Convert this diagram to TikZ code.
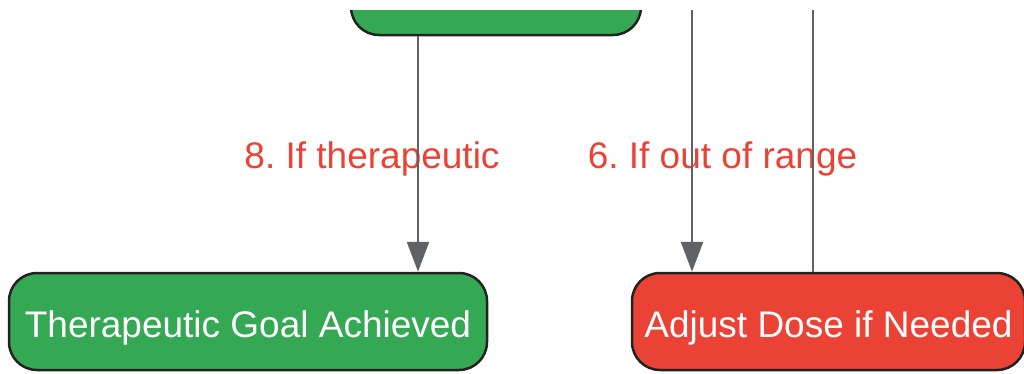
\documentclass[tikz,border=0pt]{standalone}
\usepackage{fontspec}
\setmainfont{Liberation Sans}
\usetikzlibrary{arrows.meta}
\usetikzlibrary{calc}
\definecolor{okgreen}{HTML}{34A853}
\definecolor{alertred}{HTML}{EA4335}
\definecolor{linegray}{HTML}{5F6368}
\definecolor{rimblack}{HTML}{222222}
\frenchspacing

\begin{document}
\begin{tikzpicture}[x=1pt,y=-1pt,
	box/.style={draw=rimblack,line width=2.5pt,rounded corners=28pt,text=white,inner sep=0pt,minimum height=97pt,text height=31pt,text depth=0pt,font=\fontsize{37}{44}\selectfont},
	flow/.style={draw=linegray,line width=2.5pt,-{Triangle[length=30pt,width=22pt]}},
	lbl/.style={text=alertred,anchor=base,font=\fontsize{37}{44}\selectfont}]
	\useasboundingbox (0,0) rectangle (1024,373);
	\clip (0,10) rectangle (1024,373);

	\node[box,fill=okgreen,minimum width=290pt] (check) at (496,-13.5) {};
	\node[box,fill=okgreen,minimum width=478pt] (goal) at (248,321.5) {Therapeutic Goal Achieved};
	\node[box,fill=alertred,minimum width=393pt] (adjust) at (828.5,321.5) {Adjust Dose if Needed};

	\node[lbl] (ifok) at (372,168) {8. If therapeutic};
	\node[lbl] (ifout) at (722.5,168) {6. If out of range};

	\coordinate (x8) at (418,0);
	\coordinate (in6) at (692,-5);
	\coordinate (back) at (813,-60);

	\draw[flow] (check.south -| x8) -- (goal.north -| x8);
	\draw[flow] (in6) -- (adjust.north -| in6);
	\draw[flow] (adjust.north -| back) -- (back);
\end{tikzpicture}
\end{document}
